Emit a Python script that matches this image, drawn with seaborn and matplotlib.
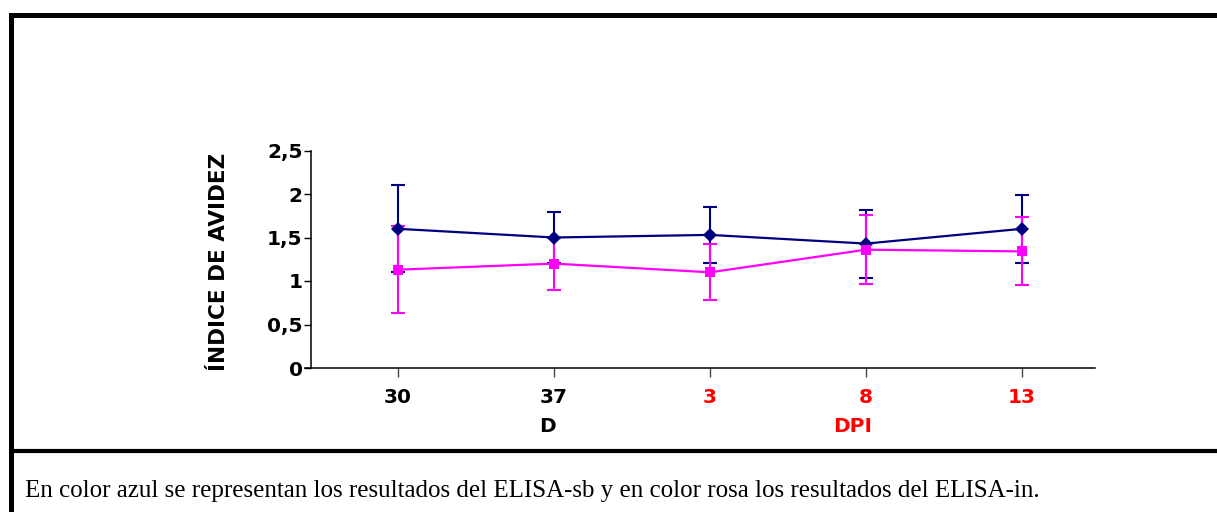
import matplotlib
matplotlib.use("Agg")
import matplotlib.pyplot as plt
from matplotlib.lines import Line2D
import seaborn as sns
import pandas as pd

# Sampling days and avidity index (mean and error) for both ELISAs
days = ["30", "37", "3", "8", "13"]
day_colors = ["black", "black", "red", "red", "red"]
sb_mean = [1.60, 1.50, 1.53, 1.43, 1.60]
sb_err = [0.50, 0.29, 0.32, 0.39, 0.39]
in_mean = [1.13, 1.20, 1.10, 1.36, 1.34]
in_err = [0.50, 0.30, 0.32, 0.40, 0.39]
y_ticks = [0, 0.5, 1, 1.5, 2, 2.5]
y_tick_labels = ["0", "0,5", "1", "1,5", "2", "2,5"]

sns.set_style("white")
plt.rcParams["font.family"] = ["DejaVu Sans"]
plt.rcParams["font.weight"] = "bold"
for k in ["text.color", "axes.labelcolor", "xtick.color", "ytick.color"]:
    plt.rcParams[k] = "black"

W, H = 1217, 512
fig = plt.figure(figsize=(W / 100, H / 100), dpi=100)
fig.patch.set_facecolor("white")

ax_l, ax_r, ax_b, ax_t = 305, 1095, 368, 150.5
ax = fig.add_axes([ax_l / W, 1 - ax_b / H, (ax_r - ax_l) / W, (ax_b - ax_t) / H])

pos = list(range(len(days)))
df = pd.DataFrame({
    "pos": pos * 2,
    "valor": sb_mean + in_mean,
    "ensayo": ["ELISA-sb"] * len(days) + ["ELISA-in"] * len(days),
})

navy = "#000080"
pink = "#FF00FF"

# error bars
ax.errorbar(pos, sb_mean, yerr=sb_err, fmt="none", ecolor=navy,
            elinewidth=1.5, capsize=5, capthick=1.5, zorder=2)
ax.errorbar(pos, in_mean, yerr=in_err, fmt="none", ecolor=pink,
            elinewidth=1.5, capsize=5, capthick=1.5, zorder=3)

sns.lineplot(data=df, x="pos", y="valor", hue="ensayo", style="ensayo",
             palette={"ELISA-sb": navy, "ELISA-in": pink},
             markers={"ELISA-sb": "D", "ELISA-in": "s"}, dashes=False,
             markersize=7, markeredgewidth=0, linewidth=1.6,
             legend=False, ax=ax, zorder=4)

# spines first: moving a spine resets that axis' ticks
for s in ["top", "right"]:
    ax.spines[s].set_visible(False)
for s in ["left", "bottom"]:
    ax.spines[s].set_color("black")
    ax.spines[s].set_linewidth(1.1)
ax.spines["left"].set_position(("data", -0.558))

ax.set_xlim(-0.596, 4.468)
ax.set_ylim(0, 2.5)
ax.set_xticks(pos)
ax.set_xticklabels(days)
for lbl, c in zip(ax.get_xticklabels(), day_colors):
    lbl.set_color(c)
    lbl.set_fontweight("bold")
    lbl.set_fontsize(14.5)
ax.set_yticks(y_ticks)
ax.set_yticklabels(y_tick_labels, fontsize=14.5, fontweight="bold", color="black")

ax.set_xlabel("")
ax.set_ylabel("ÍNDICE DE AVIDEZ", fontsize=15.5, fontweight="bold", va="center", color="black")
ax.yaxis.set_label_coords(-0.109, 0.49)

ax.tick_params(axis="y", direction="out", length=5, width=1, color="black", pad=1, left=True)
ax.tick_params(axis="x", direction="out", length=6.5, width=1, color="#444444", pad=8, bottom=True)

# group labels under the day axis
fig.text(547 / W, 1 - 426 / H, "D", color="black", fontsize=14.5, fontweight="bold",
         ha="center", va="center")
fig.text(853 / W, 1 - 426 / H, "DPI", color="red", fontsize=14.5, fontweight="bold",
         ha="center", va="center")

# frame lines
lw_frame = 3.6
fig.add_artist(Line2D([10.5 / W, 1.0], [1 - 14.5 / H, 1 - 14.5 / H], color="black",
                      linewidth=lw_frame, solid_capstyle="projecting", transform=fig.transFigure))
fig.add_artist(Line2D([10.5 / W, 10.5 / W], [1 - 14.5 / H, 0.0], color="black",
                      linewidth=lw_frame, solid_capstyle="butt", transform=fig.transFigure))
fig.add_artist(Line2D([10.5 / W, 1.0], [1 - 451 / H, 1 - 451 / H], color="black",
                      linewidth=3.0, solid_capstyle="butt", transform=fig.transFigure))

fig.text(25 / W, 1 - 497 / H,
         "En color azul se representan los resultados del ELISA-sb y en color rosa los resultados del ELISA-in.",
         family="Liberation Serif", fontweight="normal", fontsize=18, ha="left", va="baseline",
         color="black")

fig.savefig("out.png", dpi=100, facecolor="white")
